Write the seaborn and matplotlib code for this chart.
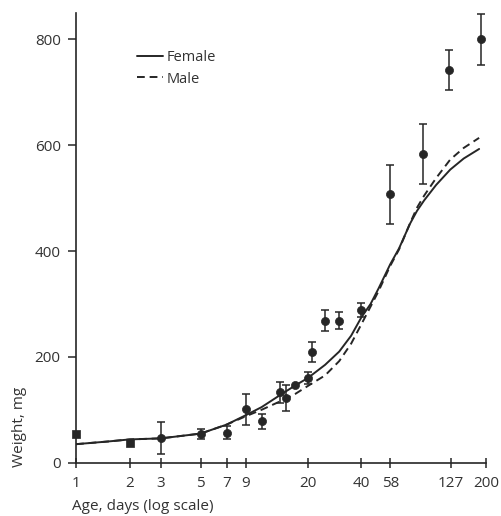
import numpy as np
import pandas as pd
import matplotlib
matplotlib.use("Agg")
import matplotlib.pyplot as plt
from matplotlib.ticker import NullLocator, FixedLocator
import seaborn as sns

# fitted growth curves
curve_days = [1, 1.5, 2, 3, 5, 7, 9, 11, 14, 17, 20, 25, 30, 35, 40, 45, 50, 58,
              65, 75, 82, 90, 105, 126, 150, 183]
female_w = [35, 40, 44, 46, 55, 72, 90, 105, 128, 146, 160, 185, 210, 240, 275,
            300, 330, 375, 405, 452, 476, 496, 525, 554, 575, 593]
male_w = [35, 40, 44, 46, 55, 72, 88, 100, 116, 130, 145, 165, 192, 225, 262,
          295, 325, 372, 403, 453, 482, 505, 538, 573, 595, 614]

# observed means with error bars
obs_days = [1, 2, 3, 5, 7, 9, 11, 14, 15, 17, 20, 21, 25, 30, 40, 58, 89, 124, 188]
obs_w = [54, 37, 47, 54, 57, 101, 78, 133, 122, 147, 160, 210, 268, 268, 289, 507,
         584, 742, 800]
obs_err = [0, 0, 30, 9, 12, 29, 14, 20, 25, 0, 12, 19, 20, 16, 13, 56, 57, 38, 48]

x_ticks = [1, 2, 3, 5, 7, 9, 20, 40, 58, 127, 200]
y_ticks = [0, 200, 400, 600, 800]

sns.set_style("ticks")
plt.rcParams["font.family"] = ["Open Sans", "DejaVu Sans"]
ink = "#262626"
txt = "#333333"

fig = plt.figure(figsize=(5.02, 5.16), dpi=100)
ax = fig.add_axes([76 / 502, 1 - 462.7 / 516, 410 / 502, 449.7 / 516])

sns.lineplot(x=curve_days, y=female_w, ax=ax, color=ink, lw=1.4,
             label="Female", estimator=None, sort=False)
sns.lineplot(x=curve_days, y=male_w, ax=ax, color=ink, lw=1.4,
             label="Male", estimator=None, sort=False, linestyle=(0, (4, 2.5)))

od = np.array(obs_days, float)
ow = np.array(obs_w, float)
oe = np.array(obs_err, float)
m = oe > 0
ax.errorbar(od[m], ow[m], yerr=oe[m], fmt="none", ecolor=ink, elinewidth=1.1,
            capsize=2.6, capthick=1.1, clip_on=False)
sns.scatterplot(x=od[:2], y=ow[:2], ax=ax, marker="s", s=30, color=ink,
                edgecolor=ink, linewidth=0.5, clip_on=False, legend=False)
sns.scatterplot(x=od[2:], y=ow[2:], ax=ax, marker="o", s=34, color=ink,
                edgecolor=ink, linewidth=0.5, clip_on=False, legend=False)

ax.set_xscale("log")
ax.set_xlim(1, 200)
ax.set_ylim(0, 850)
ax.xaxis.set_major_locator(FixedLocator(x_ticks))
ax.xaxis.set_minor_locator(NullLocator())
ax.set_xticklabels([str(t) for t in x_ticks])
ax.set_yticks(y_ticks)
ax.set_yticklabels([str(t) for t in y_ticks])

for s in ["top", "right"]:
    ax.spines[s].set_visible(False)
for s in ["left", "bottom"]:
    ax.spines[s].set_color(ink)
    ax.spines[s].set_linewidth(1.2)

ax.tick_params(axis="x", direction="inout", length=7, width=1.1, pad=6,
               colors=ink, labelcolor=txt, labelsize=11)
ax.tick_params(axis="y", direction="out", length=6, width=1.1, pad=5,
               colors=ink, labelcolor=txt, labelsize=11)

ax.set_xlabel("Age, days (log scale)", fontsize=11, color=txt, ha="left")
ax.xaxis.set_label_coords(72 / 502, 1 - 507 / 516, transform=fig.transFigure)
ax.xaxis.label.set_va("center")
ax.set_ylabel("Weight, mg", fontsize=11, color=txt)
ax.yaxis.set_label_coords(20 / 502, 1 - 427 / 516, transform=fig.transFigure)
ax.yaxis.label.set_va("center")

leg = ax.legend(loc="upper left", bbox_to_anchor=(137 / 502, 1 - 50 / 516),
                bbox_transform=fig.transFigure, frameon=False, fontsize=10.5,
                handlelength=1.8, handletextpad=0.2, borderpad=0,
                borderaxespad=0, labelspacing=0.45)
for t in leg.get_texts():
    t.set_color(txt)

fig.savefig("out.png", dpi=100, facecolor="white")
